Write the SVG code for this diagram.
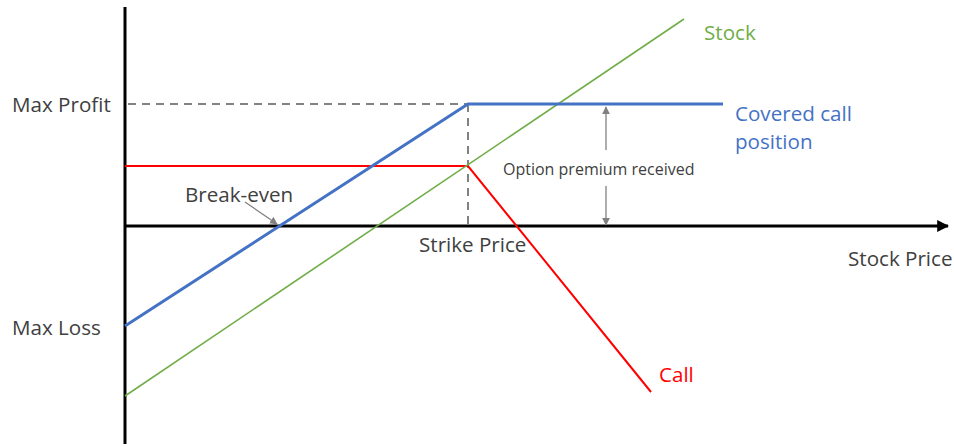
<svg xmlns="http://www.w3.org/2000/svg" width="954" height="447" viewBox="0 0 954 447">
<defs>
<style>
text{font-family:"Open Sans","Liberation Sans",sans-serif;fill:#404040;font-size:20.6px}
.small{font-size:16px}
.axis{stroke:#000;stroke-width:3;fill:none}
.dash{stroke:#595959;stroke-width:1.5;stroke-dasharray:8,6;fill:none}
.ann{stroke:#808080;stroke-width:1.3;fill:none}
</style>
<marker id="ax" viewBox="0 0 10 10" refX="9" refY="5" markerWidth="4" markerHeight="4" orient="auto" markerUnits="strokeWidth"><path d="M0,0 L10,5 L0,10 z" fill="#000"/></marker>
<marker id="ga" viewBox="0 0 10 10" refX="9" refY="5" markerWidth="6" markerHeight="6" orient="auto" markerUnits="strokeWidth"><path d="M0,0 L10,5 L0,10 z" fill="#808080"/></marker>
</defs>
<rect width="954" height="447" fill="#fff"/>
<g id="axes">
<line class="axis" x1="125" y1="7" x2="125" y2="444"/>
<line class="axis" x1="125" y1="226" x2="948" y2="226" marker-end="url(#ax)"/>
</g>
<g id="connectors">
<line class="dash" x1="128" y1="104" x2="468" y2="104"/>
<line class="dash" x1="468" y1="104" x2="468" y2="226"/>
<polyline id="call" points="125,166 468,166 651,392" fill="none" stroke="#ff0000" stroke-width="2"/>
<line id="stock" x1="125" y1="396" x2="684" y2="19" stroke="#70ad47" stroke-width="1.6"/>
<polyline id="covered" points="125,326 468,104 723,104" fill="none" stroke="#4472c4" stroke-width="3"/>
<line class="ann" x1="606" y1="150" x2="606" y2="107" marker-end="url(#ga)"/>
<line class="ann" x1="606" y1="186" x2="606" y2="225" marker-end="url(#ga)"/>
<line class="ann" x1="245" y1="202" x2="277" y2="224" marker-end="url(#ga)"/>
</g>
<g id="labels">
<text x="12" y="112">Max Profit</text>
<text x="12" y="335">Max Loss</text>
<text x="185" y="202">Break-even</text>
<text x="419" y="252">Strike Price</text>
<text x="848" y="266">Stock Price</text>
<text class="small" x="503" y="175">Option premium received</text>
<text x="704" y="40" style="fill:#70ad47">Stock</text>
<text x="735" y="121" style="fill:#4472c4">Covered call</text>
<text x="735" y="149" style="fill:#4472c4">position</text>
<text x="659" y="382" style="fill:#ff0000">Call</text>
</g>
</svg>
